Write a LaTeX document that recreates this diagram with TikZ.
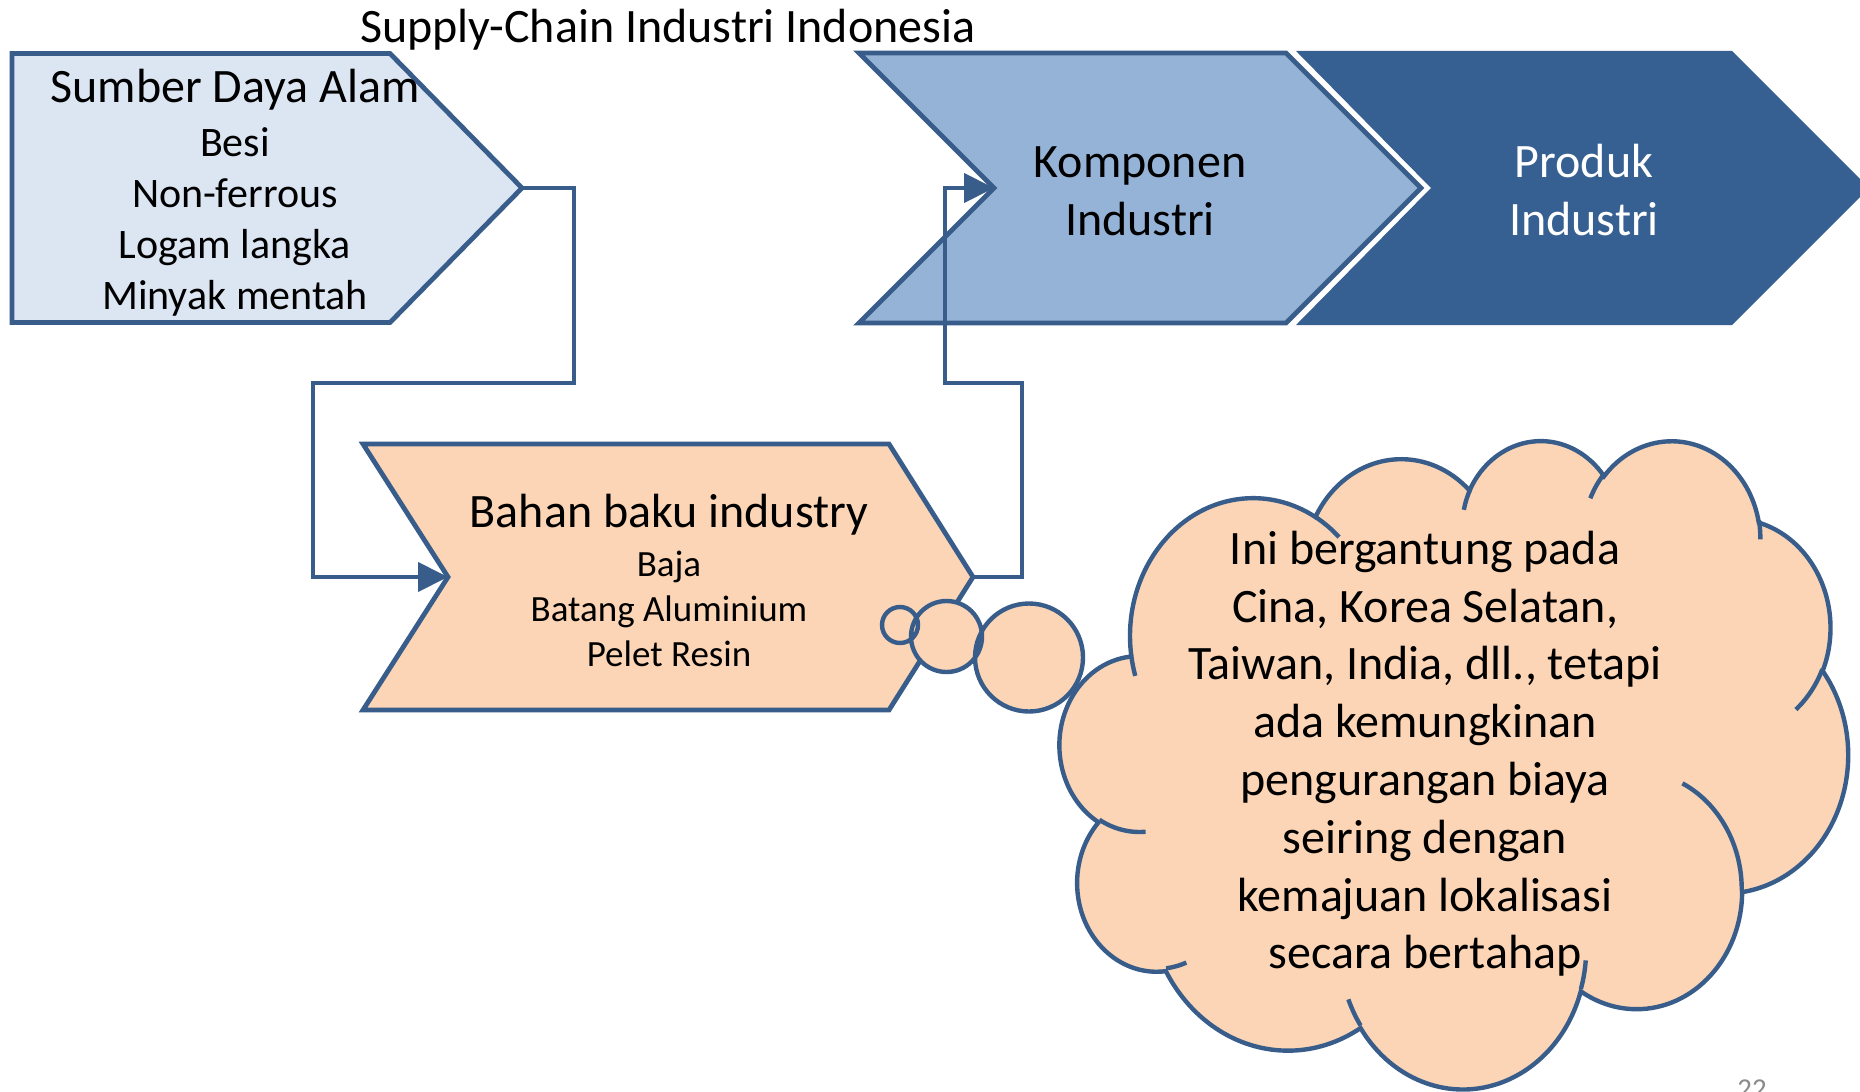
\documentclass[tikz,border=0pt]{standalone}
\usepackage{fontspec}
\setmainfont{Carlito}
\usetikzlibrary{shapes}
\usetikzlibrary{arrows.meta}

\definecolor{edgeblue}{HTML}{385D8A}
\definecolor{paleblue}{HTML}{DCE6F2}
\definecolor{midblue}{HTML}{95B3D7}
\definecolor{darkblue}{HTML}{376092}
\definecolor{peach}{HTML}{FBD5B5}
\definecolor{pagegray}{HTML}{8B8B8B}

% one arc of the cloud outline: x radius, y radius, start angle, sweep
\newcommand\cloudarc[4]{%
  \pgfextra{%
    \pgfmathsetmacro\cloudS{atan2(#1*sin(#3),#2*cos(#3))}%
    \pgfmathsetmacro\cloudE{atan2(#1*sin(#3+#4),#2*cos(#3+#4))}%
    \pgfmathsetmacro\cloudD{mod(\cloudE-\cloudS+720,360)}%
    \global\let\cloudS\cloudS\global\let\cloudD\cloudD}%
  arc[start angle=\cloudS, delta angle=\cloudD, x radius=#1, y radius=#2]}

\begin{document}
\begin{tikzpicture}[x=0.25pt, y=-0.25pt]
	\tikzstyle{chev}=[draw=edgeblue, line width=1.2pt, line join=miter]
	\tikzstyle{link}=[draw=edgeblue, line width=1.2pt, -{Triangle[length=7.5pt,width=7.2pt]}]
	\tikzstyle{puff}=[draw=edgeblue, line width=1.1pt]
	\tikzstyle{every node}=[inner sep=0pt, font=\fontsize{12}{14.5}\selectfont]
	\tikzstyle{itemtext}=[font=\fontsize{10.5}{12.75}\selectfont]
	
	\path[use as bounding box, fill=white] (0,0) rectangle (1860,1091);
	
	% the four chevrons
	\draw[chev, fill=paleblue] (12,53.5) -- (390,53.5) -- (522,188) coordinate (sdatip) -- (390,322.5) -- (12,322.5) -- cycle;
	\draw[chev, fill=midblue] (859,53) -- (1286,53) -- (1421,188) -- (1286,323) -- (859,323) -- (994,188) coordinate (kompnotch) -- cycle;
	\fill[darkblue] (1296,51) -- (1732,51) -- (1869,188) -- (1732,325) -- (1296,325) -- (1431,188) -- cycle;
	\draw[chev, fill=peach] (363,444) -- (889,444) -- (973,577) coordinate (bbitip) -- (889,710) -- (363,710) -- (448,577) coordinate (bbinotch) -- cycle;
	
	\draw[link] (sdatip) -- (574,188) |- (313,383) |- (bbinotch);
	\draw[link] (bbitip) -- (1022,577) |- (945,383) |- (kompnotch);
	
	% cloud callout
	\begin{scope}[shift={(1060,439)}, x=0.0456pt, y=-0.0375pt]
		\draw[puff, fill=peach] (390,1437) \cloudarc{675.3}{919}{-190.4875}{123.7805}
		\cloudarc{533.3}{726.7}{-144.1024}{89.9452}
		\cloudarc{436.5}{594.5}{-145.8079}{99.723}
		\cloudarc{485.7}{659.5}{-130.9861}{117.2417}
		\cloudarc{533.3}{727.3}{-78.7089}{109.0269}
		\cloudarc{677.5}{922}{-46.2673}{130.269}
		\cloudarc{578.5}{786.7}{0.625}{114.0333}
		\cloudarc{675.2}{921.5}{22.4516}{115.1726}
		\cloudarc{772}{1054.3}{66.2426}{75.711}
		\cloudarc{436}{591.8}{-274.9421}{146.7356}
		\cloudarc{434.5}{594.5}{-246.8285}{152.5189} -- cycle;
		\draw[puff] (469.3,2617.7) \cloudarc{434.5}{594.5}{86.742}{26.4295}
		(692.8,3489.9) \cloudarc{436}{591.8}{73.6105}{11.4475}
		(1647.8,3909) \cloudarc{675.2}{921.5}{137.6242}{14.0811}
		(2882.7,3475.1) \cloudarc{675.2}{921.5}{6.4533}{15.9984}
		(3412.9,2295.4) \cloudarc{578.5}{786.7}{-70.2924}{70.9174}
		(4179.8,1535.4) \cloudarc{533.3}{727.3}{30.318}{27.7515}
		(3832.4,542.6) \cloudarc{485.7}{659.5}{-13.7443}{14.8589}
		(2907.8,395.2) \cloudarc{485.7}{659.5}{-149.1815}{18.1954}
		(2214.1,472) \cloudarc{436.5}{594.5}{-163.4943}{17.6864}
		(1400,519.2) \cloudarc{675.3}{919}{-66.707}{12.3194}
		(412.7,1578.9) \cloudarc{675.3}{919}{157.6544}{11.8582};
	\end{scope}
	\fill[peach] (900,625) circle (18) (946.5,636.5) circle (35.5) (1029,657.5) circle (54);
	\draw[puff] (900,625) circle (18) (946.5,636.5) circle (35.5) (1029,657.5) circle (54);
	
	\node[anchor=base] (title) at (668,43) {Supply-Chain Industri Indonesia};
	\node[anchor=base] (sdahead) at (235,102.5) {Sumber Daya Alam};
	\node[itemtext, anchor=north, align=center] (sdaitems) at (235,119.8) {\strut Besi\\Non-ferrous\\Logam langka\\Minyak mentah};
	\node[anchor=north, align=center] (komp) at (1140,135.9) {\strut Komponen\\Industri};
	\node[anchor=north, align=center, text=white] (prod) at (1584,135.9) {\strut Produk\\Industri};
	\node[anchor=base] (bbihead) at (669,527.5) {Bahan baku industry};
	\node[anchor=north, align=center, font=\fontsize{9.25}{11.25}\selectfont] (bbiitems) at (669,544) {\strut Baja\\Batang Aluminium\\Pelet Resin};
	\node[anchor=north, align=center, font=\fontsize{12}{14.45}\selectfont] (cloudtxt) at (1425,523) {\strut Ini bergantung pada\\Cina, Korea Selatan,\\Taiwan, India, dll., tetapi\\ada kemungkinan\\pengurangan biaya\\seiring dengan\\kemajuan lokalisasi\\secara bertahap};
	\node[anchor=base, text=pagegray, font=\fontsize{7.2}{8}\selectfont] (pagenum) at (1752,1098) {22};
\end{tikzpicture}
\end{document}
